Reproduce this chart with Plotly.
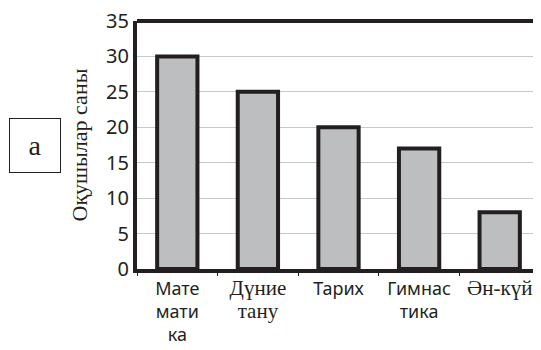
import plotly.graph_objects as go

categories = ["Математика", "Дүние тану", "Тарих", "Гимнастика", "Ән-күй"]
values = [30, 25, 20, 17, 8]
tick_labels = [
    "Мате<br>мати<br>ка",
    "<span style='font-family:Liberation Serif;font-size:21px'>Дүние<br>тану</span>",
    "Тарих",
    "Гимнас<br>тика",
    "<span style='font-family:Liberation Serif;font-size:21px'>Ән-күй</span>",
]
y_ticks = [0, 5, 10, 15, 20, 25, 30, 35]

INK = "#231f20"

fig = go.Figure()
fig.add_trace(go.Bar(
    x=categories, y=values, width=0.5,
    marker=dict(color="#bcbec0", line=dict(color=INK, width=4)),
    hoverinfo="skip",
))

fig.update_layout(
    width=533, height=342,
    margin=dict(l=129, r=1, t=13, b=81),
    paper_bgcolor="white", plot_bgcolor="white",
    showlegend=False,
    font=dict(family="Noto Sans", color=INK),
    xaxis=dict(
        tickvals=categories, ticktext=tick_labels,
        tickfont=dict(size=18, family="Noto Sans", color=INK),
        showline=True, linecolor=INK, linewidth=4,
        showgrid=False, ticks="outside", ticklen=3, tickcolor=INK,
        tickson="boundaries", range=[-0.5, 4.5], automargin=False,
        ticklabeloverflow="allow",
    ),
    yaxis=dict(
        range=[0, 35], tickvals=y_ticks,
        tickfont=dict(size=20, family="Noto Sans", color=INK),
        showline=True, linecolor=INK, linewidth=4,
        showgrid=True, gridcolor="#c8c8c8", gridwidth=1,
        ticks="", zeroline=False, automargin=False,
        ticklabeloverflow="allow",
        title=dict(text="Оқушылар саны", font=dict(family="Liberation Serif", size=22, color=INK), standoff=13),
    ),
    shapes=[
        dict(type="line", xref="paper", yref="paper", x0=0, x1=1, y0=1, y1=1,
             line=dict(color=INK, width=4)),
        dict(type="line", xref="paper", yref="paper", x0=1, x1=1, y0=0, y1=1,
             line=dict(color="#c8c8c8", width=1)),
    ],
    annotations=[
        dict(text="а", xref="paper", yref="paper", x=-0.2531, y=0.5,
             xanchor="center", yanchor="middle",
             showarrow=False, font=dict(family="Liberation Serif", size=28, color=INK),
             bordercolor=INK, borderwidth=1, width=48, height=51, bgcolor="white"),
    ],
)

fig.write_html("out.html")
